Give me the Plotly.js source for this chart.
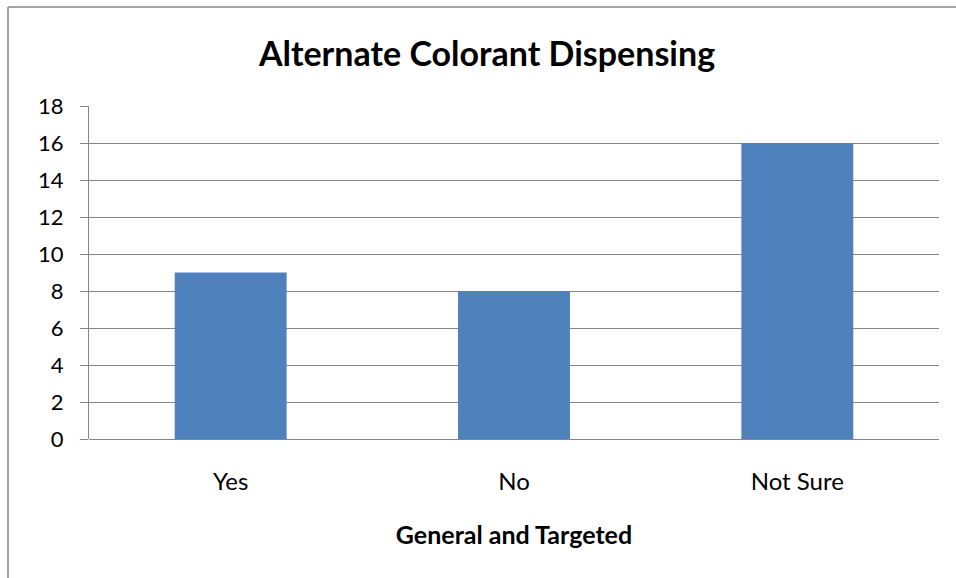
<!DOCTYPE html>
<html>
<head>
<meta charset="utf-8">
<script src="https://cdn.plot.ly/plotly-3.0.1.min.js"></script>
<style>
html,body{margin:0;padding:0;background:#fff;}
#chart{width:956px;height:578px;}
</style>
</head>
<body>
<div id="chart"></div>
<script>
const categories = ["Yes", "No", "Not Sure"];
const values = [9, 8, 16];
const yTicks = [0, 2, 4, 6, 8, 10, 12, 14, 16, 18];

const FONT = "Lato, 'Open Sans', sans-serif";
const L = 89, R = 17, T = 106, B = 139, W = 956, H = 578;
const pw = W - L - R, ph = H - T - B;
const px = v => (v - L) / pw;
const py = v => (H - B - v) / ph;

const trace = {
  type: "bar",
  x: categories,
  y: values,
  marker: {color: "#4F81BD"},
  hoverinfo: "x+y"
};

const layout = {
  width: W, height: H,
  margin: {l: L, r: R, t: T, b: B, pad: 0},
  paper_bgcolor: "#ffffff",
  plot_bgcolor: "#ffffff",
  showlegend: false,
  bargap: 0.605,
  font: {family: FONT, color: "#000000", size: 22},
  title: {
    text: "<b>Alternate Colorant Dispensing</b>",
    font: {family: FONT, size: 34, color: "#000000"},
    xref: "container", x: 487 / W, xanchor: "center",
    yref: "container", y: 1 - 54 / H, yanchor: "middle"
  },
  xaxis: {
    type: "category",
    showgrid: false,
    showline: false,
    ticks: "",
    tickfont: {family: FONT, size: 24},
    ticklabelstandoff: 26,
    title: {
      text: "<b>General and Targeted</b>",
      font: {family: FONT, size: 25},
      standoff: 32
    }
  },
  yaxis: {
    range: [0, 18],
    tickvals: yTicks,
    ticktext: yTicks.map(String),
    showgrid: true,
    gridcolor: "#868686",
    gridwidth: 1,
    zeroline: true,
    zerolinecolor: "#868686",
    zerolinewidth: 1,
    showline: true,
    linecolor: "#868686",
    linewidth: 1,
    ticks: "outside",
    ticklen: 8,
    tickcolor: "#868686",
    tickfont: {family: FONT, size: 22},
    ticklabelstandoff: 12
  },
  shapes: [
    {type: "line", xref: "paper", yref: "paper", x0: px(8), x1: px(8), y0: py(7), y1: py(H + 5), line: {color: "#868686", width: 1.5}},
    {type: "line", xref: "paper", yref: "paper", x0: px(8), x1: px(W + 5), y0: py(7), y1: py(7), line: {color: "#868686", width: 1.5}}
  ]
};

Plotly.newPlot("chart", [trace], layout, {displayModeBar: false, staticPlot: true});
</script>
</body>
</html>
